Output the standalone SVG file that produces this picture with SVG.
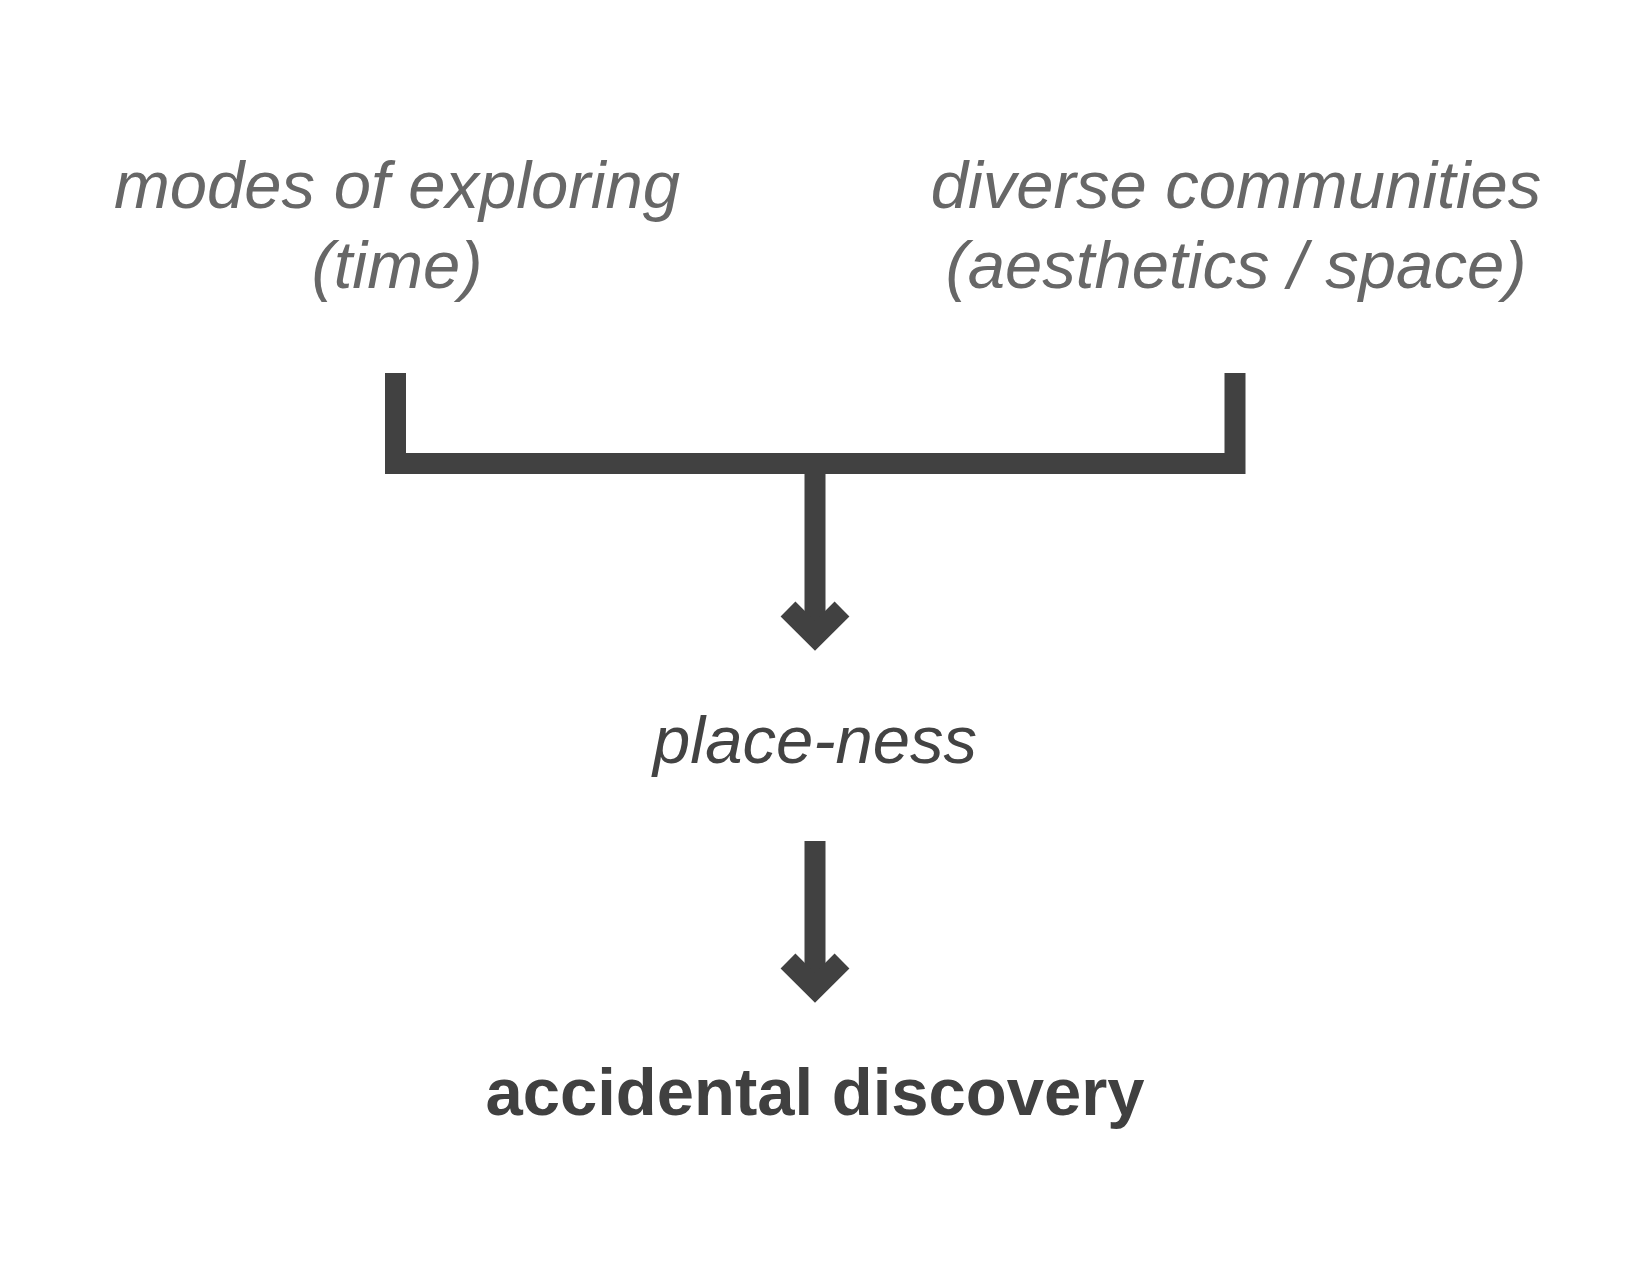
<svg xmlns="http://www.w3.org/2000/svg" width="1650" height="1275" viewBox="0 0 1650 1275">
<style>
.src{font-family:"Liberation Sans",Arial,sans-serif;font-style:italic;font-size:67px;fill:#676767;text-anchor:middle}
.mid{font-family:"Liberation Sans",Arial,sans-serif;font-style:italic;font-size:67px;fill:#434343;text-anchor:middle}
.out{font-family:"Liberation Sans",Arial,sans-serif;font-weight:bold;font-size:67px;fill:#404040;text-anchor:middle}
.ln{fill:none;stroke:#414141;stroke-width:21;stroke-linejoin:miter;stroke-linecap:butt}
</style>
<rect width="1650" height="1275" fill="#ffffff"/>
<g id="node-modes">
<text class="src" x="397" y="208">modes of exploring</text>
<text class="src" x="397" y="288">(time)</text>
</g>
<g id="node-diverse">
<text class="src" x="1236" y="208">diverse communities</text>
<text class="src" x="1236" y="288">(aesthetics / space)</text>
</g>
<g id="node-placeness">
<text class="mid" x="815" y="763">place-ness</text>
</g>
<g id="node-discovery">
<text class="out" x="815" y="1115">accidental discovery</text>
</g>
<g id="connectors">
<path class="ln" d="M395.5,373 V463.5 H1235 V373"/>
<path class="ln" d="M815,474 V636"/>
<polyline class="ln" points="788,609 815,636 842,609"/>
<path class="ln" d="M815,841 V988"/>
<polyline class="ln" points="788,961 815,988 842,961"/>
</g>
</svg>
